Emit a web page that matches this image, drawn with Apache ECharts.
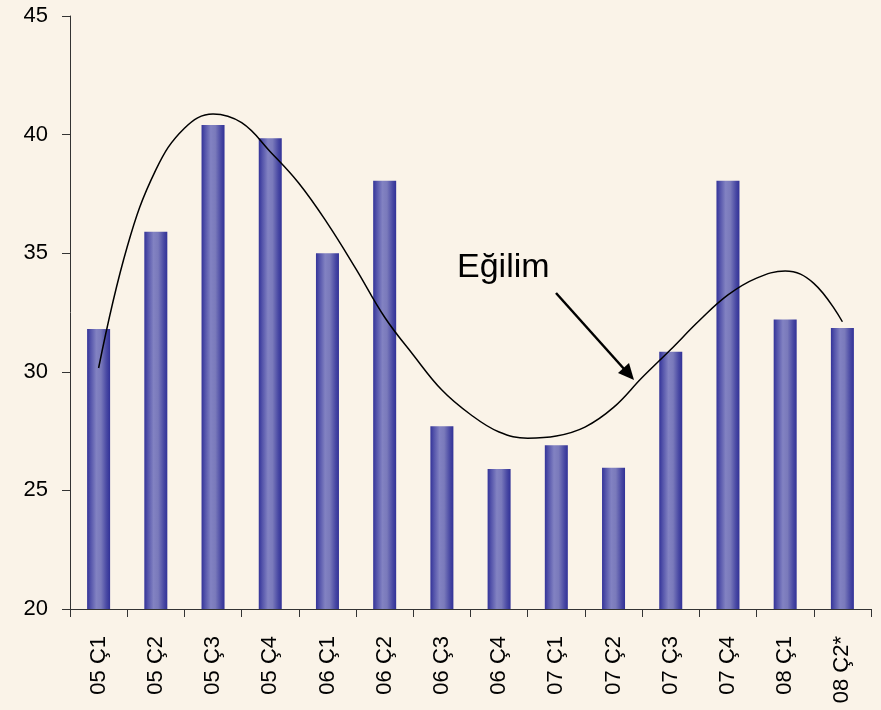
<!DOCTYPE html>
<html>
<head>
<meta charset="utf-8">
<script src="https://cdn.jsdelivr.net/npm/echarts@6/dist/echarts.min.js"></script>
<style>
    html, body { margin: 0; padding: 0; background: #faf3e8; }
    #chart { width: 881px; height: 710px; }
</style>
</head>
<body>
<div id="chart"></div>
<script>
// kategoriler (çeyrekler)
var categories = ['05 Ç1', '05 Ç2', '05 Ç3', '05 Ç4', '06 Ç1', '06 Ç2', '06 Ç3', '06 Ç4',
    '07 Ç1', '07 Ç2', '07 Ç3', '07 Ç4', '08 Ç1', '08 Ç2*'];
// çubuk değerleri
var barValues = [31.8, 35.9, 40.4, 39.85, 35.0, 38.05, 27.7, 25.9, 26.9, 25.95, 30.85, 38.05, 32.2, 31.85];
// eğilim çizgisi: resimden yarım çeyrek aralıklarla okunan noktalar (x = kategori sırası)
var trendX = [0, 0.5, 1, 1.5, 2, 2.5, 3, 3.5, 4, 4.5, 5, 5.5, 6, 6.5,
    7, 7.5, 8, 8.5, 9, 9.5, 10, 10.5, 11, 11.5, 12, 12.5, 13];
var trendValues = [30.16, 35.27, 38.51, 40.27, 40.87, 40.5, 39.28, 37.95, 36.26, 34.33, 32.3, 30.71, 29.23, 28.2,
    27.46, 27.2, 27.29, 27.67, 28.5, 29.76, 30.94, 32.16, 33.24, 33.95, 34.25, 33.73, 32.11];
var annotationText = 'Eğilim';

var trendData = [];
for (var i = 0; i < trendX.length; i++) {
    trendData.push([trendX[i], trendValues[i]]);
}

var myChart = echarts.init(document.getElementById('chart'));
var barColor = new echarts.graphic.LinearGradient(0, 0, 1, 0, [
    { offset: 0, color: '#333399' },
    { offset: 0.15, color: '#5353aa' },
    { offset: 0.4, color: '#8282c2' },
    { offset: 0.6, color: '#7a7abb' },
    { offset: 0.85, color: '#4848a3' },
    { offset: 1, color: '#313197' }
]);

var option = {
    backgroundColor: '#faf3e8',
    animation: false,
    textStyle: { fontFamily: 'Liberation Sans, Arial, sans-serif' },
    grid: {
        left: 70,
        right: 10,
        top: 16,
        bottom: 101
    },
    xAxis: [
        {
            type: 'category',
            data: categories,
            axisLine: { onZero: false, lineStyle: { color: '#333333', width: 1 } },
            axisTick: { show: true, length: 8, lineStyle: { color: '#333333' } },
            axisLabel: {
                rotate: 90,
                margin: 27,
                fontSize: 22,
                color: '#000000',
                interval: 0
            }
        },
        {
            // eğilim çizgisi için gizli eksen
            type: 'value',
            min: -0.5,
            max: 13.5,
            show: false
        }
    ],
    yAxis: {
        type: 'value',
        min: 20,
        max: 45,
        interval: 5,
        splitLine: { show: false },
        axisLine: { show: true, onZero: false, lineStyle: { color: '#333333', width: 1 } },
        axisTick: { show: true, length: 8, lineStyle: { color: '#333333' } },
        axisLabel: {
            fontSize: 22,
            color: '#000000',
            margin: 22
        }
    },
    series: [
        {
            name: 'Değer',
            type: 'bar',
            barWidth: 23,
            itemStyle: { color: barColor },
            data: barValues,
            z: 2
        },
        {
            name: annotationText,
            type: 'line',
            xAxisIndex: 1,
            smooth: 0.4,
            symbol: 'none',
            lineStyle: { color: '#000000', width: 1.5 },
            data: trendData,
            z: 3
        }
    ],
    graphic: [
        {
            type: 'text',
            left: 457,
            top: 251,
            style: {
                text: annotationText,
                fontSize: 34,
                fontFamily: 'Liberation Sans, Arial, sans-serif',
                fill: '#000000'
            }
        },
        {
            type: 'line',
            shape: { x1: 556, y1: 293, x2: 625, y2: 370 },
            style: { stroke: '#000000', lineWidth: 2.5 }
        },
        {
            type: 'polygon',
            shape: { points: [[634, 380], [618, 373], [629, 363]] },
            style: { fill: '#000000' }
        }
    ]
};
myChart.setOption(option);
</script>
</body>
</html>
